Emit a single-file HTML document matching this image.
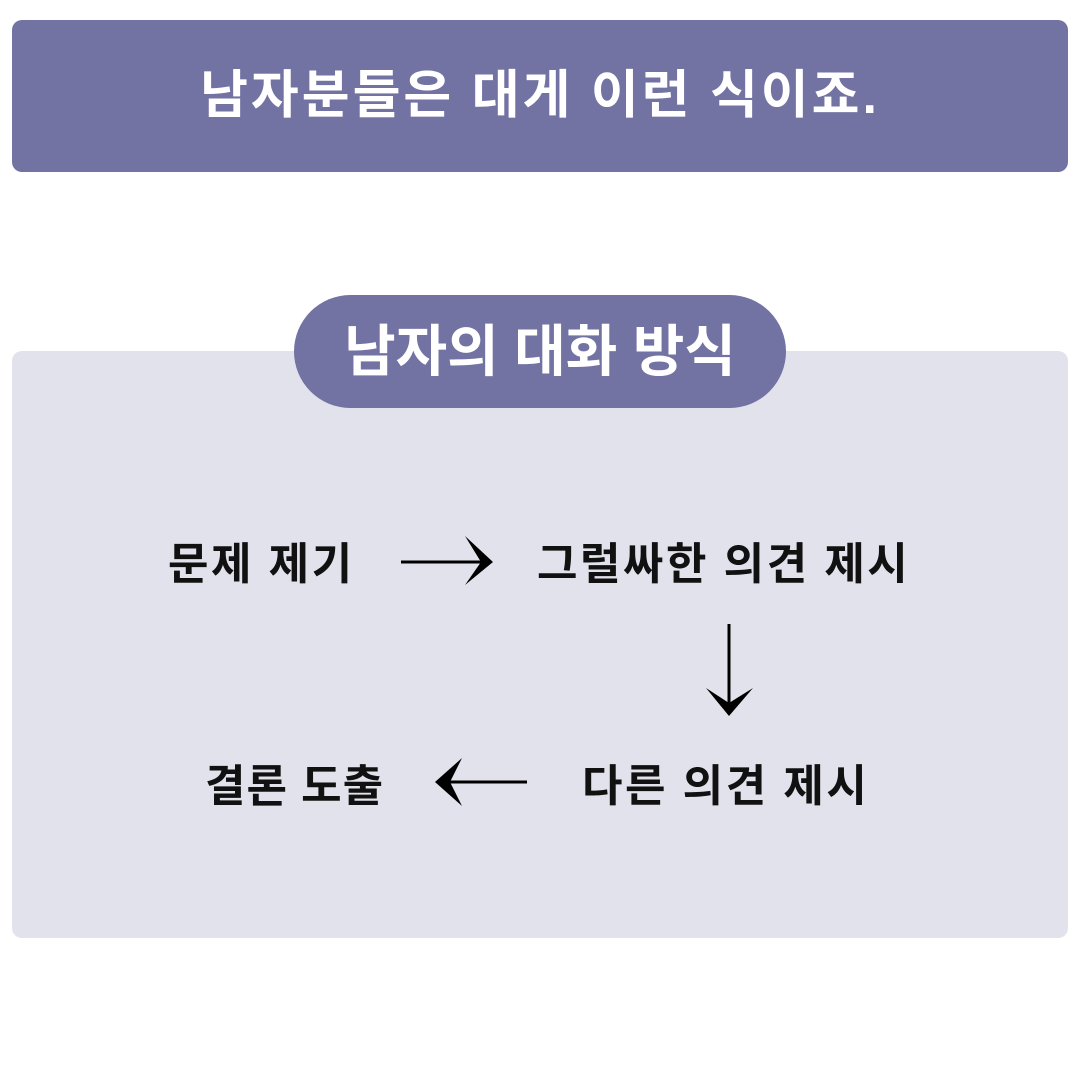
<!DOCTYPE html>
<html><head><meta charset="utf-8"><style>
body{margin:0;width:1080px;height:1080px;background:#fff;position:relative;overflow:hidden;font-family:"Liberation Sans","Noto Sans CJK KR",sans-serif}
.hdr{position:absolute;left:12px;top:20px;width:1056px;height:152px;background:#7272a3;border-radius:10px;color:#fff;font-weight:bold;font-size:52px;letter-spacing:3px;text-align:center;line-height:152px}
.panel{position:absolute;left:12px;top:351px;width:1056px;height:587px;background:#e2e2ec;border-radius:10px}
.pill{position:absolute;left:294px;top:295px;width:492px;height:113px;background:#7272a3;border-radius:57px;color:#fff;font-weight:bold;font-size:56px;text-align:center;line-height:113px}
.t{position:absolute;font-weight:bold;font-size:44px;letter-spacing:2.5px;color:#111;line-height:1;white-space:nowrap}
</style></head><body>
<div class="hdr">남자분들은 대게 이런 식이죠.</div>
<div class="panel"></div>
<div class="pill">남자의 대화 방식</div>
<div class="t" style="left:168px;top:543px">문제 제기</div>
<div class="t" style="left:537px;top:543px">그럴싸한 의견 제시</div>
<div class="t" style="left:582px;top:765px">다른 의견 제시</div>
<div class="t" style="left:205px;top:765px;letter-spacing:1px">결론 도출</div>
<svg width="1080" height="1080" style="position:absolute;left:0;top:0">
<g stroke="#000" stroke-width="3" fill="#000">
<line x1="401" y1="562" x2="485" y2="562"/>
<line x1="729" y1="624" x2="729" y2="708"/>
<line x1="447" y1="782" x2="527" y2="782"/>
</g>
<g fill="#000">
<polygon points="493,562 465,536 481,562 465,585"/>
<polygon points="729,716 706,688 729,703 753,688"/>
<polygon points="435,782 462,758 450,782 462,806"/>
</g>
</svg>
</body></html>
